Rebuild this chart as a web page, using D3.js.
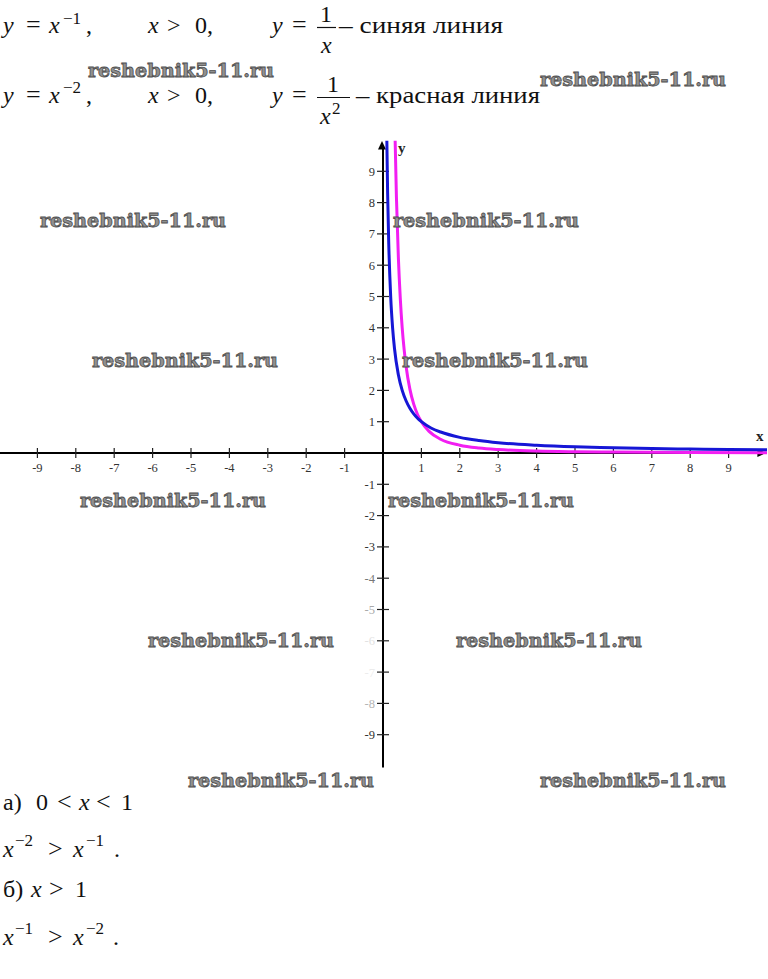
<!DOCTYPE html>
<html>
<head>
<meta charset="utf-8">
<script src="https://cdn.jsdelivr.net/npm/d3@7"></script>
<style>
  html, body { margin: 0; padding: 0; background: #fff; }
  svg { display: block; }
</style>
</head>
<body>
<svg id="chart" width="768" height="979"></svg>
<script>
// ---------- DATA ----------
const xTicks = [-9, -8, -7, -6, -5, -4, -3, -2, -1, 1, 2, 3, 4, 5, 6, 7, 8, 9];
const yTicks = [9, 8, 7, 6, 5, 4, 3, 2, 1, -1, -2, -3, -4, -5, -6, -7, -8, -9];

// blue line  y = 1/x
const blueX = [0.1, 0.12, 0.15, 0.2, 0.25, 0.3, 0.4, 0.5, 0.6, 0.7, 0.8, 0.9, 1, 1.25, 1.5, 2, 2.5, 3, 4, 5, 6, 7, 8, 9, 10];
const blueY = [10, 8.33, 6.67, 5, 4, 3.33, 2.5, 2, 1.67, 1.43, 1.25, 1.11, 1, 0.8, 0.67, 0.5, 0.4, 0.33, 0.25, 0.2, 0.17, 0.14, 0.125, 0.11, 0.1];

// magenta line  y = 1/x^2
const redX = [0.316, 0.35, 0.4, 0.45, 0.5, 0.55, 0.6, 0.7, 0.8, 0.9, 1, 1.2, 1.5, 2, 2.5, 3, 4, 5, 6, 8, 10];
const redY = [10, 8.16, 6.25, 4.94, 4, 3.31, 2.78, 2.04, 1.56, 1.23, 1, 0.69, 0.44, 0.25, 0.16, 0.11, 0.06, 0.04, 0.03, 0.016, 0.01];

const watermark = "reshebnik5-11.ru";
const wmX = [88, 540, 40, 393, 92, 402, 80, 388, 148, 456, 188, 540];
const wmY = [77, 86, 227, 227, 367, 367, 507, 507, 647, 647, 787, 787];

// ---------- font detection ----------
function pickFont(cands, fallback) {
  const c = document.createElement("canvas").getContext("2d");
  const s = "reshebnik5-11 синяя линия xyz 0123";
  const base = {};
  ["monospace", "sans-serif"].forEach(b => { c.font = "40px " + b; base[b] = c.measureText(s).width; });
  for (const f of cands) {
    let both = true;
    for (const b of ["monospace", "sans-serif"]) {
      c.font = `40px "${f}", ${b}`;
      if (Math.abs(c.measureText(s).width - base[b]) <= 0.5) both = false;
    }
    if (both) return `"${f}"`;
  }
  return fallback;
}
const SERIF = pickFont(["Liberation Serif", "Tinos", "Times New Roman", "Times", "Nimbus Roman",
  "FreeSerif", "DejaVu Serif", "Noto Serif"], "serif");
const WMF = pickFont(["DejaVu Serif", "Noto Serif", "Liberation Serif", "Tinos", "FreeSerif"], SERIF);

// ---------- DRAW ----------
const svg = d3.select("#chart");

const x = d3.scaleLinear().domain([-10, 10]).range([-1, 767]);
const y = d3.scaleLinear().domain([-10, 10]).range([766, 140]);
const x0 = x(0), y0 = y(0);

// faded labels (scan artifact)
const labelColor = v => ({"-4": "#777", "-5": "#aaa", "-6": "#e2e2e2", "-7": "#ececec", "-8": "#b5b5b5"}[String(v)] || "#333");

// axes
const g = svg.append("g");
g.append("line").attr("x1", 0).attr("x2", x(9.95)).attr("y1", y0).attr("y2", y0)
  .attr("stroke", "#000").attr("stroke-width", 2);
g.append("path").attr("d", `M${x(10)-1},${y0} L${x(9.75)},${y0-4} L${x(9.75)},${y0+4} Z`).attr("fill", "#000");
g.append("line").attr("x1", x0).attr("x2", x0).attr("y1", y(9.75)).attr("y2", y(-10.05))
  .attr("stroke", "#000").attr("stroke-width", 2);
g.append("path").attr("d", `M${x0-1},${y(10)+1} L${x0-5},${y(9.7)} L${x0+3},${y(9.7)} Z`).attr("fill", "#000");

// x ticks
const xt = g.selectAll(".xt").data(xTicks).enter().append("g").attr("class", "xt");
xt.append("line").attr("x1", d => x(d)).attr("x2", d => x(d)).attr("y1", y0 - 5).attr("y2", y0 + 5)
  .attr("stroke", "#222").attr("stroke-width", 1.2);
xt.append("text").style("font-family", SERIF).attr("x", d => x(d)).attr("y", y0 + 19).attr("text-anchor", "middle")
  .attr("font-size", 12.5).attr("fill", "#333").text(d => d);

// y ticks
const yt = g.selectAll(".yt").data(yTicks).enter().append("g").attr("class", "yt");
yt.append("line").attr("x1", x0 - 6).attr("x2", x0 + 6).attr("y1", d => y(d)).attr("y2", d => y(d))
  .attr("stroke", "#222").attr("stroke-width", 1.2);
yt.append("text").style("font-family", SERIF).attr("x", x0 - 8).attr("y", d => y(d) + 4.5).attr("text-anchor", "end")
  .attr("font-size", 12.5).attr("fill", d => labelColor(d)).text(d => d);

// axis names
g.append("text").style("font-family", SERIF).attr("x", 756).attr("y", 441).attr("font-weight", "bold")
  .attr("font-size", 15).attr("fill", "#222").text("x");
g.append("text").style("font-family", SERIF).attr("x", 398).attr("y", 153).attr("font-weight", "bold")
  .attr("font-size", 15).attr("fill", "#222").text("y");

// curves
svg.append("clipPath").attr("id", "clip").append("rect")
  .attr("x", x0).attr("y", y(9.98)).attr("width", 768 - x0).attr("height", 700);
const line = d3.line().x(d => x(d[0])).y(d => y(d[1])).curve(d3.curveMonotoneX);
const curves = svg.append("g").attr("clip-path", "url(#clip)");
curves.append("path").datum(d3.zip(redX, redY)).attr("d", line)
  .attr("fill", "none").attr("stroke", "#f21ef2").attr("stroke-width", 3);
curves.append("path").datum(d3.zip(blueX, blueY)).attr("d", line)
  .attr("fill", "none").attr("stroke", "#1616d6").attr("stroke-width", 3);

// ---------- formulas ----------
function piece(parent, txt, px, py, opts = {}) {
  const t = parent.append("text").style("font-family", SERIF).attr("x", px).attr("y", py)
    .attr("font-size", opts.size || 24)
    .attr("font-style", opts.italic ? "italic" : "normal")
    .attr("fill", "#111").text(txt);
  if (opts.len) t.attr("textLength", opts.len).attr("lengthAdjust", "spacingAndGlyphs");
  return t;
}
const SUP = 17;
const OP = 26;
const T = svg.append("g");
// line 1
piece(T, "y", 3, 33, {italic: true});
piece(T, "=", 26, 33, {size: OP});
piece(T, "x", 49, 33, {italic: true});
piece(T, "−1", 63, 24, {size: SUP});
piece(T, ",", 86, 33);
piece(T, "x", 148, 33, {italic: true});
piece(T, ">", 167, 33);
piece(T, "0,", 195, 33);
piece(T, "y", 272, 33, {italic: true});
piece(T, "=", 292, 33, {size: OP});
piece(T, "1", 320, 22);
T.append("line").attr("x1", 317).attr("x2", 336).attr("y1", 27.5).attr("y2", 27.5).attr("stroke", "#111").attr("stroke-width", 1.2);
piece(T, "x", 321, 53, {italic: true});
piece(T, "– синяя линия", 339, 33, {len: 164});
// line 2
piece(T, "y", 3, 103, {italic: true});
piece(T, "=", 26, 103, {size: OP});
piece(T, "x", 49, 103, {italic: true});
piece(T, "−2", 63, 93, {size: SUP});
piece(T, ",", 86, 103);
piece(T, "x", 148, 103, {italic: true});
piece(T, ">", 167, 103);
piece(T, "0,", 195, 103);
piece(T, "y", 272, 103, {italic: true});
piece(T, "=", 292, 103, {size: OP});
piece(T, "1", 327, 92);
T.append("line").attr("x1", 317).attr("x2", 350).attr("y1", 97.5).attr("y2", 97.5).attr("stroke", "#111").attr("stroke-width", 1.2);
piece(T, "x", 320, 124, {italic: true});
piece(T, "2", 332, 114, {size: SUP});
piece(T, "– красная линия", 356, 103, {len: 184});

// bottom lines
piece(T, "а)", 3, 810);
piece(T, "0", 36, 810);
piece(T, "<", 57, 810, {size: OP});
piece(T, "x", 79, 810, {italic: true});
piece(T, "<", 96, 810, {size: OP});
piece(T, "1", 121, 810);

piece(T, "x", 3, 857, {italic: true});
piece(T, "−2", 15, 846, {size: SUP});
piece(T, ">", 48, 857, {size: OP});
piece(T, "x", 73, 857, {italic: true});
piece(T, "−1", 86, 846, {size: SUP});
piece(T, ".", 114, 857);

piece(T, "б)", 3, 897);
piece(T, "x", 31, 897, {italic: true});
piece(T, ">", 49, 897, {size: OP});
piece(T, "1", 75, 897);

piece(T, "x", 3, 945, {italic: true});
piece(T, "−1", 15, 934, {size: SUP});
piece(T, ">", 48, 945, {size: OP});
piece(T, "x", 73, 945, {italic: true});
piece(T, "−2", 86, 934, {size: SUP});
piece(T, ".", 113, 945);

// ---------- watermarks ----------
const W = svg.append("g");
W.selectAll("text").data(d3.zip(wmX, wmY)).enter().append("text")
  .style("font-family", WMF).attr("font-weight", "bold")
  .attr("x", d => d[0]).attr("y", d => d[1])
  .attr("font-size", 19)
  .attr("textLength", 186).attr("lengthAdjust", "spacingAndGlyphs")
  .attr("fill", "#909090").attr("stroke", "#4e4e4e").attr("stroke-width", 0.8)
  .text(watermark);
</script>
</body>
</html>
